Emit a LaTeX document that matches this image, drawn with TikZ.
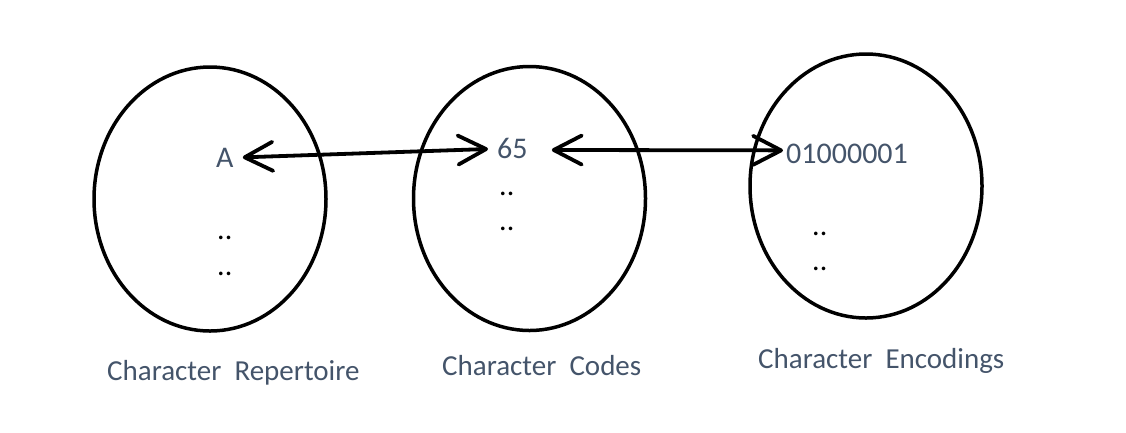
\documentclass[tikz,border=0pt]{standalone}
\usepackage{fontspec}
\setmainfont{Carlito}
\usetikzlibrary{shapes.geometric,arrows.meta,calc}
\definecolor{txtc}{HTML}{44546A}
\begin{document}
\begin{tikzpicture}[x=1pt,y=-1pt,
  setcircle/.style={ellipse,draw=black,line width=3.5pt,minimum width=232pt,minimum height=264pt,inner sep=0pt},
  lbl/.style={anchor=base west,inner sep=0pt,text=txtc,font=\fontsize{29}{34}\selectfont},
  val/.style={anchor=base west,inner sep=0pt,text=txtc,font=\fontsize{30}{34}\selectfont},
  dots/.style={anchor=base west,inner sep=0pt,text=black,font=\fontsize{30}{34}\selectfont},
  arr/.style={line width=3.8pt,{Straight Barb[length=28pt,width=29pt,round]}-{Straight Barb[length=28pt,width=29pt,round]}}]
\useasboundingbox (0,0) rectangle (1126,432);
\node[setcircle] (rep) at (210,199) {};
\node[setcircle] (codes) at (529.5,198.5) {};
\node[setcircle] (enc) at (866,186) {};
\node[val] (a) at (216,167) {A};
\node[val] (c65) at (497,158) {65};
\node[val] (bin) at (786,163) {01000001};
\node[dots] (d1a) at (217,239) {..};
\node[dots] (d1b) at (217,275) {..};
\node[dots] (d2a) at (499,195) {..};
\node[dots] (d2b) at (499,230) {..};
\node[dots] (d3a) at (812,235) {..};
\node[dots] (d3b) at (812,270) {..};
\node[lbl] (l1) at (107,380) {Character~~Repertoire};
\node[lbl] (l2) at (442,375) {Character~~Codes};
\node[lbl] (l3) at (758,368) {Character~~Encodings};
\draw[arr] ($(a.east)+(9,0)$) -- ($(c65.west)+(-9,1)$);
\draw[arr] ($(c65.east)+(24,2)$) -- ($(bin.west)+(-3,-3)$);
\end{tikzpicture}
\end{document}
